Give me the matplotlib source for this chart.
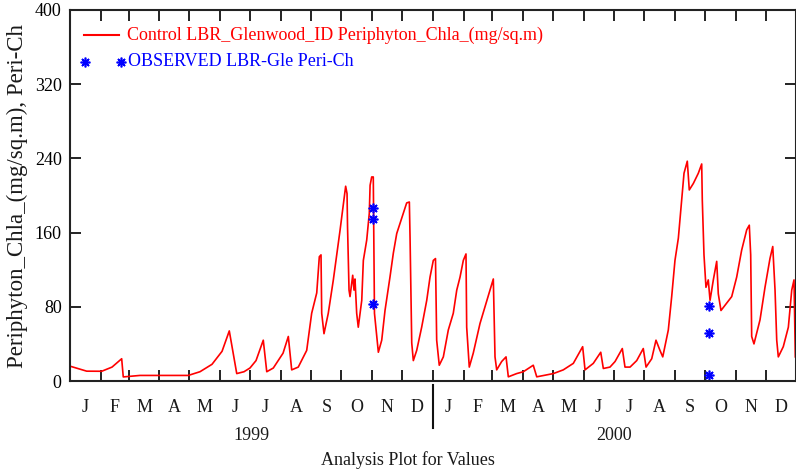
import datetime as dt
import matplotlib
matplotlib.use("Agg")
import matplotlib.pyplot as plt
import matplotlib.dates as mdates
from matplotlib.lines import Line2D

# Simulated periphyton chlorophyll-a (days since 1 Jan 1999, mg/sq.m)
days = [0, 16.8, 31.9, 42.3, 52.0, 53.6, 70.4, 119.0, 130.8, 142.9, 153.0, 160.3,
        167.8, 175.1, 181.1, 187.2, 194.5, 198.0, 204.6, 214.4, 219.7, 223.1,
        229.7, 238.2, 243.2, 248.3, 250.9, 252.6, 253.3, 255.6,
        259.9, 265.0, 271.7, 277.4, 278.8, 279.3, 280.8, 281.8, 284.5, 285.8,
        286.8, 288.5, 290.1, 293.6, 295.2, 298.6, 301.2, 302.0, 303.6, 305.2,
        306.4, 310.3, 313.7, 317.0, 322.0, 325.4, 328.8, 332.1, 335.4, 338.8,
        341.5, 342.2, 343.9, 345.5, 348.9, 353.9, 359.0, 362.3, 365.6, 367.8,
        369.0, 371.6, 375.7, 380.7, 385.7, 389.2, 392.5, 395.8, 398.5, 399.2,
        401.8, 405.8, 412.6, 417.6, 422.7, 426.0, 427.7, 429.4, 434.4, 438.8,
        441.1, 449.5, 456.2, 466.2, 469.7, 486.4, 496.4, 506.5, 515.9, 518.3,
        526.6, 534.1, 536.7, 543.4, 548.5, 555.8, 558.5, 563.6, 570.3, 576.9,
        579.7, 585.4, 589.7, 593.7, 596.5, 602.1, 605.5, 608.8, 612.2, 615.6,
        617.9, 621.2, 623.2, 627.3, 632.3, 635.7, 636.3, 638.0, 640.0, 642.3,
        644.1, 647.4, 650.8, 652.4, 655.1, 660.9, 665.9, 670.9, 675.9, 681.0,
        683.6, 685.0, 686.0, 688.3, 694.4, 699.4, 704.4, 707.2, 709.5, 711.2,
        712.8, 717.8, 722.9, 726.3, 728.6, 729.9]
chla = [16, 10.6, 10.5, 15, 24, 4.4, 6, 6, 10, 18, 32, 54,
        8, 10, 14, 22, 44, 10, 14, 30, 48, 12,
        15, 33, 73, 95, 134, 136, 73, 51,
        73, 109, 162, 210, 202, 166, 98, 91, 114, 98,
        110, 73, 58, 87, 130, 152, 181, 211, 220, 220,
        73, 31, 44, 76, 112, 138, 159, 170, 181, 192,
        193, 155, 41, 22, 33, 58, 87, 112, 130, 132,
        44, 17, 26, 55, 73, 98, 112, 130, 137, 58,
        15, 30, 62, 80, 98, 110, 26, 12, 21, 26,
        4.5, 8, 10, 17, 4.5, 8, 12, 19, 37, 12,
        19, 31, 13.5, 15, 21, 35, 15, 15, 22, 35,
        15, 24, 44, 33, 26, 55, 91, 130, 154, 195,
        224, 237, 206, 213, 224, 234, 195, 136, 101, 109,
        87, 109, 129, 94, 76, 84, 91, 112, 141, 163,
        168, 136, 48, 40, 66, 101, 132, 145, 98, 44,
        26, 37, 58, 98, 109, 26]

# Observed samples (days since 1 Jan 1999, mg/sq.m)
obs_days = [305, 305, 305, 643, 643, 643]
obs_vals = [186, 175, 83, 81, 52, 7]

month_letters = ["J", "F", "M", "A", "M", "J", "J", "A", "S", "O", "N", "D"]
years = [1999, 2000]
yticks = [0, 80, 160, 240, 320, 400]

line_label = "Control LBR_Glenwood_ID Periphyton_Chla_(mg/sq.m)"
obs_label = "OBSERVED LBR-Gle Peri-Ch"
ylabel = "Periphyton_Chla_(mg/sq.m), Peri-Ch"
xlabel = "Analysis Plot for Values"

SERIF = ["Liberation Serif", "DejaVu Serif"]
W, H = 796, 474
origin = dt.datetime(1999, 1, 1)
STAR = dict(marker=(8, 2, 0), color="#0000ff", markersize=7, markeredgewidth=1.2)


def to_date(d):
    return origin + dt.timedelta(days=d)


def fx(px):
    return px / W


def fy(py):
    return 1 - py / H


fig = plt.figure(figsize=(W / 100, H / 100), dpi=100)
ax = fig.add_axes([fx(70), fy(381), (796.4 - 70) / W, (381 - 10) / H])

ax.plot([to_date(d) for d in days], chla, color="#ff0000", lw=1.2)
ax.plot([to_date(d) for d in obs_days], obs_vals, linestyle="none", **STAR)

ax.set_xlim(dt.datetime(years[0], 1, 1), dt.datetime(years[-1] + 1, 1, 1))
ax.set_ylim(0, 400)
ax.set_yticks(yticks)
ax.set_yticklabels([str(v) for v in yticks], family=SERIF, fontsize=13)
ax.xaxis.set_major_locator(mdates.MonthLocator())
ax.xaxis.set_major_formatter(plt.NullFormatter())
ax.tick_params(direction="in", length=8, width=1.4, top=True, right=True,
               color="#222222", pad=6)
for side in ("left", "bottom", "top", "right"):
    ax.spines[side].set_linewidth(1.5)
    ax.spines[side].set_color("#222222")

# month initials centred in each month, year labels centred under each year
trans = matplotlib.transforms.blended_transform_factory(ax.transData, fig.transFigure)
for yr in years:
    for m in range(12):
        a = dt.datetime(yr, m + 1, 1)
        b = dt.datetime(yr + (m == 11), (m + 1) % 12 + 1, 1)
        mid = a + (b - a) / 2
        ax.text(mid, fy(408), month_letters[m], transform=trans, ha="center",
                va="center", family=SERIF, fontsize=13, color="#1a1a1a")
    mid_year = dt.datetime(yr, 1, 1) + (dt.datetime(yr + 1, 1, 1) - dt.datetime(yr, 1, 1)) / 2
    ax.text(mid_year, fy(435), str(yr), transform=trans, ha="center", va="center",
            family=SERIF, fontsize=13, color="#1a1a1a")

# separator between the two years
sep_x = mdates.date2num(dt.datetime(years[1], 1, 1))
ax.add_line(Line2D([sep_x, sep_x], [fy(385), fy(428)], transform=trans,
                   color="#111111", lw=1.5, clip_on=False))

fig.text(fx(408), fy(460), xlabel, ha="center", va="center", family=SERIF,
         fontsize=13, color="#1a1a1a")
fig.text(fx(17), fy(196), ylabel, ha="center", va="center", rotation=90,
         family=SERIF, fontsize=16.5, color="#1a1a1a")

# legend entries
fig.add_artist(Line2D([fx(84), fx(119)], [fy(34.5), fy(34.5)], color="#ff0000", lw=1.5))
fig.text(fx(127), fy(35), line_label, ha="left", va="center", family=SERIF,
         fontsize=13, color="#ff0000")
fig.add_artist(Line2D([fx(85), fx(120.5)], [fy(61.5), fy(61.5)], linestyle="none",
                      **STAR))
fig.text(fx(127.5), fy(61.5), obs_label, ha="left", va="center", family=SERIF,
         fontsize=13, color="#0000ff")

fig.savefig("out.png", dpi=100)
